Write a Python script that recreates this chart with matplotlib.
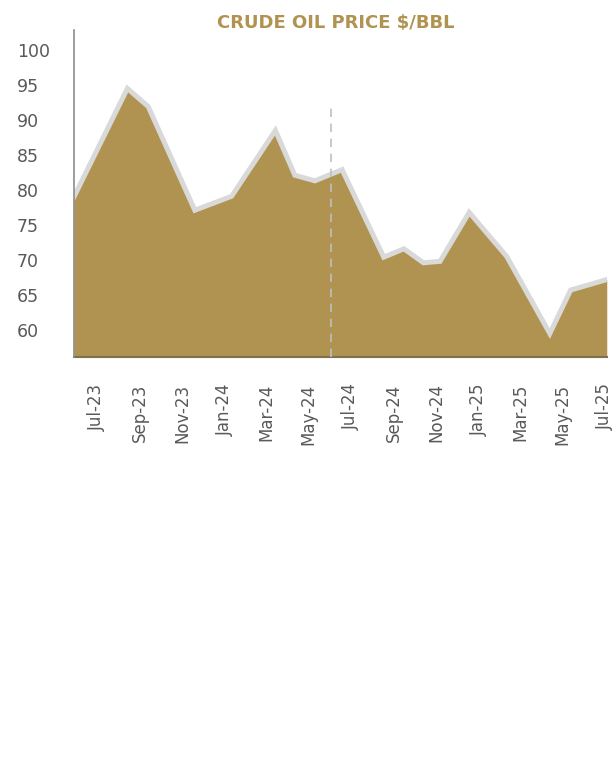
import matplotlib
matplotlib.use("Agg")
import matplotlib.pyplot as plt
import matplotlib.dates as mdates
import numpy as np

# monthly-ish crude price points
dates = np.array([
    "2023-05-29", "2023-08-14", "2023-09-13", "2023-11-19", "2024-01-11",
    "2024-03-14", "2024-04-11", "2024-05-10", "2024-06-18", "2024-08-17",
    "2024-09-15", "2024-10-13", "2024-11-06", "2024-12-18", "2025-02-10",
    "2025-04-13", "2025-05-13", "2025-07-04",
], dtype="datetime64[D]")
price = [
    79.0, 94.5, 91.9, 77.1, 79.1,
    88.5, 82.1, 81.3, 82.9, 70.4,
    71.6, 69.6, 69.8, 76.8, 70.5,
    59.5, 65.7, 67.2,
]

tick_dates = np.array([
    "2023-07-01", "2023-09-01", "2023-11-01", "2024-01-01", "2024-03-01",
    "2024-05-01", "2024-07-01", "2024-09-01", "2024-11-01", "2025-01-01",
    "2025-03-01", "2025-05-01", "2025-07-01",
], dtype="datetime64[D]")
tick_labels = [
    "Jul-23", "Sep-23", "Nov-23", "Jan-24", "Mar-24", "May-24", "Jul-24",
    "Sep-24", "Nov-24", "Jan-25", "Mar-25", "May-25", "Jul-25",
]
y_ticks = [60, 65, 70, 75, 80, 85, 90, 95, 100]

marker_date = np.datetime64("2024-06-02")
marker_top = 92.4

gold = "#B09350"
grey_line = "#D9D9D9"
text_grey = "#595959"

def to_num(d):
    return mdates.date2num(d.astype("datetime64[s]").astype(object))

x = to_num(dates)
xt = to_num(tick_dates)
xm = to_num(marker_date)

fig = plt.figure(figsize=(6.16, 7.58), dpi=100)
ax = fig.add_axes([0.120, 0.529, 0.865, 0.4316])

ymin, ymax = 56.14, 102.86
ax.fill_between(x, price, ymin - 10, color=gold, linewidth=0, zorder=1)
ax.plot(x, price, color=grey_line, linewidth=3.6, zorder=2,
        solid_joinstyle="miter")
ax.vlines(xm, ymin, marker_top, colors="#BFBFBF", linestyles=(0, (5, 4)),
          linewidth=1.2, zorder=3)

ax.set_xlim(x[0], x[-1])
ax.set_ylim(ymin, ymax)

ax.set_xticks(xt)
ax.set_xticklabels(tick_labels, rotation=90, ha="center", va="top",
                   fontsize=12, color=text_grey)
ax.set_yticks(y_ticks)
ax.set_yticklabels([str(v) for v in y_ticks], fontsize=12.5, color=text_grey)
for lab in ax.get_yticklabels():
    lab.set_ha("left")
ax.tick_params(axis="y", length=0, pad=41)
ax.tick_params(axis="x", length=0, pad=19)

for side in ("top", "right"):
    ax.spines[side].set_visible(False)
ax.spines["left"].set_color("#8C8C8C")
ax.spines["left"].set_linewidth(1.2)
ax.spines["bottom"].set_color("#7F7050")
ax.spines["bottom"].set_linewidth(1.5)
ax.spines["left"].set_zorder(4)

fig.text(0.545, 0.970, "CRUDE OIL PRICE $/BBL", ha="center", va="center",
         fontsize=13, fontweight="heavy", color=gold)

fig.savefig("out.png", dpi=100)
